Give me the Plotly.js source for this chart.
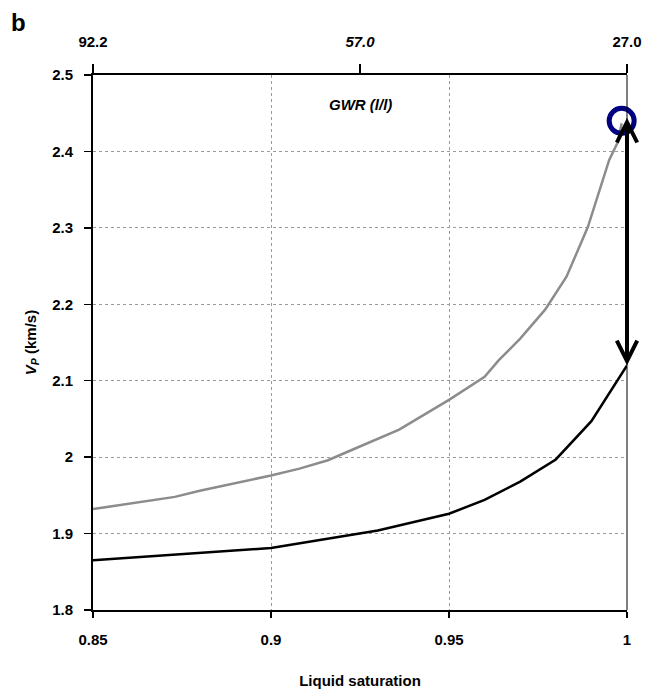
<!DOCTYPE html>
<html>
<head>
<meta charset="utf-8">
<script src="https://cdn.plot.ly/plotly-3.0.1.min.js"></script>
<style>html,body{margin:0;padding:0;background:#fff;}#chart{width:660px;height:697px;}</style>
</head>
<body>
<div id="chart"></div>
<script>
// Liquid saturation vs P-wave velocity
const satGray = [0.85, 0.873, 0.88, 0.9, 0.908, 0.916, 0.923, 0.936, 0.95, 0.96, 0.964, 0.97, 0.977, 0.983, 0.989, 0.9924, 0.995, 0.9975, 0.9985];
const vpGray  = [1.932, 1.948, 1.956, 1.976, 1.985, 1.996, 2.010, 2.036, 2.075, 2.105, 2.127, 2.155, 2.193, 2.236, 2.301, 2.350, 2.389, 2.413, 2.437];
const satBlack = [0.85, 0.9, 0.93, 0.95, 0.96, 0.97, 0.98, 0.99, 1.0];
const vpBlack  = [1.865, 1.881, 1.904, 1.926, 1.944, 1.968, 1.997, 2.047, 2.12];
const circleSat = [0.9985];
const circleVp = [2.44];
const arrowSat = [1.0, 1.0];
const arrowVp = [2.446, 2.12];
const topTickSat = [0.85, 0.925, 1.0];
const topTickText = ['<b>92.2</b>', '<b><i>57.0</i></b>', '<b>27.0</b>'];
const xTicks = [0.85, 0.9, 0.95, 1.0];
const xTickText = ['<b>0.85</b>', '<b>0.9</b>', '<b>0.95</b>', '<b>1</b>'];
const yTicks = [1.8, 1.9, 2.0, 2.1, 2.2, 2.3, 2.4, 2.5];
const yTickText = ['<b>1.8</b>', '<b>1.9</b>', '<b>2</b>', '<b>2.1</b>', '<b>2.2</b>', '<b>2.3</b>', '<b>2.4</b>', '<b>2.5</b>'];

const F = 'Liberation Sans, Arial, sans-serif';

const traces = [
  {x: satGray, y: vpGray, mode: 'lines', line: {color: '#8c8c8c', width: 2.5}, hoverinfo: 'skip'},
  {x: satBlack, y: vpBlack, mode: 'lines', line: {color: '#000', width: 2.5}, hoverinfo: 'skip'},
  {x: circleSat, y: circleVp, mode: 'markers', cliponaxis: false,
   marker: {symbol: 'circle-open', size: 25, color: '#000080', line: {color: '#000080', width: 5}}, hoverinfo: 'skip'},
  {x: topTickSat, y: [2.5, 2.5, 2.5], xaxis: 'x2', mode: 'markers', marker: {opacity: 0}, hoverinfo: 'skip'}
];

const layout = {
  width: 660, height: 697,
  margin: {l: 93, r: 33, t: 75, b: 87},
  paper_bgcolor: '#fff', plot_bgcolor: '#fff',
  showlegend: false,
  font: {family: F, size: 15, color: '#000'},
  xaxis: {
    range: [0.85, 1.0], tickvals: xTicks, ticktext: xTickText,
    ticks: 'outside', ticklen: 6, tickwidth: 1.5, tickcolor: '#000',
    showline: true, linecolor: '#000', linewidth: 2,
    showgrid: true, gridcolor: '#9a9a9a', griddash: 'dot', gridwidth: 1,
    zeroline: false, ticklabelstandoff: 9,
    tickfont: {family: F, size: 15, color: '#000'},
    title: {text: '<b>Liquid saturation</b>', font: {family: F, size: 15}, standoff: 28}
  },
  xaxis2: {
    overlaying: 'x', side: 'top', range: [0.85, 1.0],
    tickvals: topTickSat, ticktext: topTickText,
    ticks: 'outside', ticklen: 9, tickwidth: 1.5, tickcolor: '#000',
    showline: true, linecolor: '#000', linewidth: 2,
    showgrid: false, zeroline: false, ticklabelstandoff: 11,
    tickfont: {family: F, size: 15, color: '#000'}
  },
  yaxis: {
    range: [1.8, 2.5], tickvals: yTicks, ticktext: yTickText,
    ticks: 'outside', ticklen: 7, tickwidth: 1.5, tickcolor: '#000',
    showline: true, linecolor: '#000', linewidth: 2,
    showgrid: true, gridcolor: '#9a9a9a', griddash: 'dot', gridwidth: 1,
    zeroline: false, ticklabelstandoff: 8,
    tickfont: {family: F, size: 15, color: '#000'},
    title: {text: '<b><i>V<sub>P</sub></i> (km/s)</b>', font: {family: F, size: 15}, standoff: 12}
  },
  shapes: [
    {type: 'line', xref: 'paper', yref: 'paper', x0: 1, x1: 1, y0: 0, y1: 1, layer: 'above', line: {color: '#000', width: 1}}
  ],
  annotations: [
    {text: '<b>b</b>', xref: 'paper', yref: 'paper', x: -0.157, y: 1.099, xanchor: 'left', yanchor: 'middle', showarrow: false, font: {family: F, size: 24}},
    {text: '<b><i>GWR (l/l)</i></b>', xref: 'paper', yref: 'paper', x: 0.5, y: 0.945, xanchor: 'center', yanchor: 'middle', showarrow: false, font: {family: F, size: 15}},
    {text: '', xref: 'x', yref: 'y', axref: 'x', ayref: 'y',
     x: arrowSat[1], y: arrowVp[1], ax: arrowSat[0], ay: arrowVp[0],
     showarrow: true, arrowside: 'end+start', arrowhead: 5, startarrowhead: 5,
     arrowwidth: 4, arrowsize: 1, startarrowsize: 1, arrowcolor: '#000', standoff: 0, startstandoff: 0}
  ]
};

Plotly.newPlot('chart', traces, layout, {displayModeBar: false, staticPlot: true});
</script>
</body>
</html>
